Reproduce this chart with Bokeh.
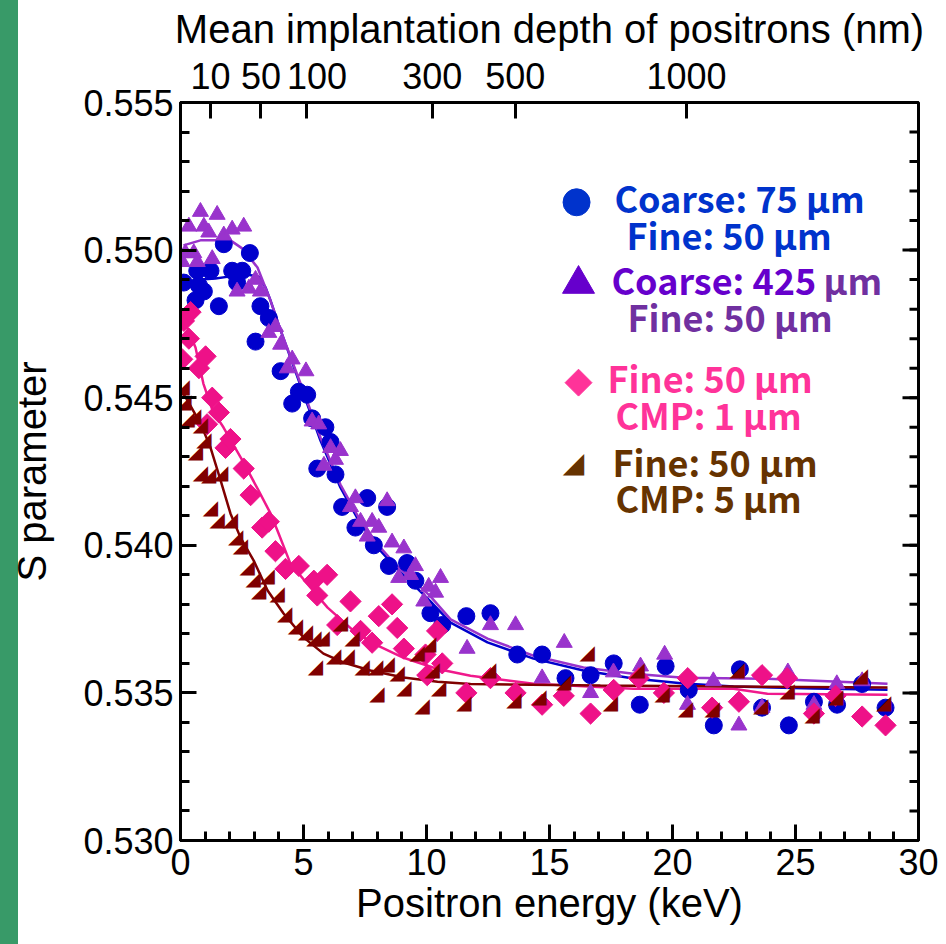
import math
from bokeh.plotting import figure
from bokeh.models import FixedTicker, LinearAxis, Label, Range1d, NumeralTickFormatter
from bokeh.embed import file_html
from bokeh.resources import INLINE
from bokeh.core.properties import value

# ---- measured S parameter vs positron energy (keV) ----
# Coarse 75 um / Fine 50 um
e_c75 = [0.13, 0.61, 0.68, 0.75, 0.95, 1.22, 1.56, 1.76, 2.10, 2.30, 2.51, 2.82, 3.05, 3.25,
         3.59, 4.07, 4.54, 4.81, 5.15, 5.35, 5.56, 5.89, 6.10, 6.30, 6.57, 7.11, 7.59, 7.86,
         8.40, 8.47, 9.21, 9.55, 10.16, 10.64, 11.62, 12.60, 13.69, 14.70, 15.65, 16.67,
         17.61, 18.67, 19.72, 20.66, 21.68, 22.74, 23.64, 24.73, 25.75, 26.69, 27.71, 28.66]
s_c75 = [0.5489, 0.5483, 0.5493, 0.5488, 0.5486, 0.5493, 0.5481, 0.5502, 0.5493, 0.5489,
         0.5493, 0.5499, 0.5469, 0.5481, 0.5477, 0.5459, 0.5448, 0.5452, 0.5451, 0.5443,
         0.5426, 0.5440, 0.5435, 0.5424, 0.5413, 0.5406, 0.5416, 0.5400, 0.5413, 0.5393,
         0.5394, 0.5388, 0.5377, 0.5373, 0.5376, 0.5377, 0.5363, 0.5363, 0.5355, 0.5356,
         0.5360, 0.5346, 0.5359, 0.5351, 0.5339, 0.5358, 0.5345, 0.5339, 0.5347, 0.5346,
         0.5353, 0.5345]

# Coarse 425 um / Fine 50 um
e_c425 = [0.07, 0.20, 0.34, 0.54, 0.68, 0.81, 0.95, 1.15, 1.29, 1.49, 1.76, 2.10, 2.30, 2.57,
          2.78, 3.05, 3.25, 3.59, 3.86, 4.07, 4.34, 4.54, 5.10, 5.35, 5.62, 5.83, 6.10, 6.30,
          6.50, 6.91, 7.11, 7.32, 7.59, 7.79, 8.06, 8.40, 8.60, 8.87, 9.08, 9.35, 9.55, 9.89,
          10.09, 10.37, 10.57, 11.65, 12.60, 13.62, 14.70, 15.60, 16.67, 17.60, 18.70, 19.68,
          20.61, 21.66, 22.70, 23.64, 24.69, 25.75, 26.68, 27.71]
s_c425 = [0.5496, 0.5499, 0.5508, 0.5499, 0.5496, 0.5513, 0.5508, 0.5506, 0.5497, 0.5512,
          0.5505, 0.5507, 0.5486, 0.5508, 0.5487, 0.5490, 0.5486, 0.5472, 0.5474, 0.5468,
          0.5460, 0.5463, 0.5459, 0.5442, 0.5441, 0.5427, 0.5433, 0.5429, 0.5432, 0.5413,
          0.5416, 0.5408, 0.5403, 0.5408, 0.5406, 0.5415, 0.5401, 0.5389, 0.5399, 0.5390,
          0.5393, 0.5381, 0.5386, 0.5384, 0.5389, 0.5365, 0.5373, 0.5373, 0.5355, 0.5367,
          0.5350, 0.5357, 0.5359, 0.5363, 0.5346, 0.5354, 0.5339, 0.5345, 0.5357, 0.5346,
          0.5353, 0.5354]

# Fine 50 um / CMP 1 um
e_cmp1 = [0.07, 0.14, 0.34, 0.41, 0.75, 1.02, 1.08, 1.29, 1.56, 1.83, 2.03, 2.57, 2.85, 3.32,
          3.59, 3.86, 4.27, 4.81, 5.42, 5.56, 5.96, 6.37, 6.91, 7.32, 7.79, 8.06, 8.60, 8.81,
          9.08, 9.96, 10.03, 10.43, 10.64, 11.62, 12.60, 13.62, 14.70, 15.58, 16.67, 17.61,
          18.63, 19.65, 20.62, 21.61, 22.70, 23.64, 24.66, 25.75, 26.63, 27.71, 28.66]
s_cmp1 = [0.5463, 0.5476, 0.5470, 0.5479, 0.5460, 0.5464, 0.5441, 0.5450, 0.5445, 0.5433,
          0.5436, 0.5426, 0.5417, 0.5406, 0.5408, 0.5398, 0.5392, 0.5393, 0.5388, 0.5383,
          0.5390, 0.5373, 0.5381, 0.5371, 0.5367, 0.5376, 0.5380, 0.5372, 0.5365, 0.5363,
          0.5356, 0.5371, 0.5360, 0.5350, 0.5355, 0.5350, 0.5346, 0.5349, 0.5343, 0.5351,
          0.5355, 0.5350, 0.5355, 0.5345, 0.5347, 0.5356, 0.5355, 0.5343, 0.5349, 0.5342,
          0.5339]

# Fine 50 um / CMP 5 um
e_cmp5 = [0.07, 0.14, 0.27, 0.54, 0.61, 0.81, 0.81, 0.95, 1.15, 1.22, 1.49, 1.63, 2.03, 2.24,
          2.44, 2.71, 2.95, 3.18, 3.52, 3.93, 4.24, 4.67, 5.08, 5.42, 5.49, 5.76, 6.23, 6.50,
          6.78, 6.98, 7.39, 7.93, 7.99, 8.40, 8.81, 9.08, 9.62, 9.82, 10.09, 10.23, 10.50,
          11.52, 12.53, 13.55, 14.57, 15.58, 16.53, 17.48, 18.56, 19.58, 20.53, 21.61, 22.63,
          23.58, 24.66, 25.68, 26.63, 27.64, 28.59]
s_cmp5 = [0.5454, 0.5449, 0.5443, 0.5444, 0.5432, 0.5441, 0.5425, 0.5436, 0.5424, 0.5413,
          0.5409, 0.5425, 0.5409, 0.5403, 0.5400, 0.5393, 0.5389, 0.5385, 0.5390, 0.5384,
          0.5377, 0.5373, 0.5371, 0.5369, 0.5359, 0.5369, 0.5363, 0.5374, 0.5363, 0.5369,
          0.5359, 0.5359, 0.5350, 0.5360, 0.5357, 0.5352, 0.5364, 0.5346, 0.5367, 0.5358,
          0.5352, 0.5347, 0.5358, 0.5348, 0.5349, 0.5354, 0.5364, 0.5347, 0.5358, 0.5350,
          0.5345, 0.5345, 0.5358, 0.5346, 0.5351, 0.5343, 0.5349, 0.5356, 0.5347]

# ---- fitted curves ----
fit_e_c75 = [0.08, 0.81, 1.42, 2.03, 2.64, 3.17, 3.46, 3.66, 4.07, 4.88, 5.69, 6.50, 7.24,
             8.01, 8.74, 9.47, 10.16, 10.98, 12.48, 14.35, 16.38, 18.41, 20.45, 22.48,
             25.73, 28.74]
fit_s_c75 = [0.54894, 0.54900, 0.54904, 0.54911, 0.54917, 0.54911, 0.54873, 0.54829,
             0.54728, 0.54541, 0.54355, 0.54196, 0.54084, 0.53993, 0.53925, 0.53867,
             0.53810, 0.53738, 0.53671, 0.53616, 0.53576, 0.53549, 0.53532, 0.53522,
             0.53515, 0.53511]

fit_e_c425 = [0.12, 0.81, 2.03, 2.52, 3.13, 3.66, 4.07, 4.88, 5.69, 6.50, 7.24, 8.01, 8.74,
              9.47, 10.16, 10.98, 12.48, 14.35, 16.38, 18.41, 20.45, 23.86, 28.74]
fit_s_c425 = [0.55016, 0.55033, 0.55033, 0.55005, 0.54941, 0.54829, 0.54728, 0.54548,
              0.54365, 0.54206, 0.54094, 0.54003, 0.53935, 0.53881, 0.53827, 0.53749,
              0.53684, 0.53626, 0.53586, 0.53565, 0.53551, 0.53548, 0.53531]

fit_e_cmp1 = [0.08, 0.61, 0.93, 1.30, 1.75, 2.52, 3.17, 3.66, 3.94, 4.47, 5.28, 5.98, 7.03,
              7.85, 9.07, 10.45, 11.79, 14.35, 18.41, 22.48, 23.86, 28.74]
fit_s_cmp1 = [0.54775, 0.54670, 0.54548, 0.54457, 0.54399, 0.54287, 0.54186, 0.54108,
              0.54050, 0.53938, 0.53857, 0.53789, 0.53711, 0.53667, 0.53619, 0.53581,
              0.53558, 0.53531, 0.53514, 0.53514, 0.53497, 0.53494]

fit_e_cmp5 = [0.08, 0.28, 0.81, 1.22, 1.63, 2.03, 2.44, 2.97, 3.54, 4.19, 5.00, 5.81, 6.63,
              7.72, 9.07, 10.45, 11.79, 17.07, 28.74]
fit_s_cmp5 = [0.54518, 0.54491, 0.54413, 0.54331, 0.54220, 0.54108, 0.54026, 0.53949,
              0.53847, 0.53769, 0.53688, 0.53633, 0.53603, 0.53576, 0.53552, 0.53538,
              0.53530, 0.53525, 0.53518]

# ---- secondary scale: mean implantation depth ----
depth_nm = [10, 50, 100, 300, 500, 1000]
depth_energy_kev = [1.22, 3.27, 5.14, 10.23, 13.61, 20.57]

energy_ticks = [0, 5, 10, 15, 20, 25, 30]
energy_minor = list(range(0, 31))
s_ticks = [0.530, 0.535, 0.540, 0.545, 0.550, 0.555]
s_minor = [round(0.530 + 0.001 * i, 3) for i in range(26)]

E_MIN, E_MAX = 0, 30
S_MIN, S_MAX = 0.530, 0.555

BLUE, PURPLE, PINK, MAROON = "#0000cc", "#9933cc", "#ee1188", "#800000"
TICK_FONT = "Liberation Sans"
TITLE_FONT = "Liberation Sans"
LEG_FONT = "Noto Sans CJK KR"
MAJOR_LEN, MINOR_LEN = 16, 9
STRIP = "#389a68"

p = figure(frame_width=738, frame_height=738,
           x_range=Range1d(E_MIN, E_MAX), y_range=Range1d(S_MIN, S_MAX),
           x_axis_location=None, y_axis_location=None,
           output_backend="svg", toolbar_location=None,
           min_border_left=180, min_border_right=28,
           min_border_top=102, min_border_bottom=104)
p.grid.visible = False
p.outline_line_color = "black"
p.outline_line_width = 3
p.background_fill_color = "white"
# transparent border so the page background (with its green strip) shows through
p.border_fill_color = None
p.styles = {"background": f"linear-gradient(to right, {STRIP} 0px, {STRIP} 18px, white 18px, white 100%)"}


def style_axis(ax):
    ax.axis_line_width = 3
    ax.axis_line_color = "black"
    ax.major_tick_line_width = 3
    ax.minor_tick_line_width = 3
    ax.major_tick_in = MAJOR_LEN
    ax.major_tick_out = 0
    ax.minor_tick_in = MINOR_LEN
    ax.minor_tick_out = 0
    ax.major_label_text_font = TICK_FONT
    ax.major_label_text_font_size = "36px"
    ax.major_label_text_color = "black"
    ax.axis_label_text_font = TITLE_FONT
    ax.axis_label_text_font_size = "40px"
    ax.axis_label_text_font_style = "normal"
    ax.axis_label_text_color = "black"


bottom = LinearAxis(ticker=FixedTicker(ticks=energy_ticks, minor_ticks=energy_minor),
                    axis_label="Positron energy (keV)")
style_axis(bottom)
bottom.major_label_standoff = 8
bottom.axis_label_standoff = 3
p.add_layout(bottom, "below")

left = LinearAxis(ticker=FixedTicker(ticks=s_ticks, minor_ticks=s_minor),
                  axis_label="S parameter",
                  formatter=NumeralTickFormatter(format="0.000"))
style_axis(left)
left.major_label_standoff = 7
left.axis_label_standoff = 26
p.add_layout(left, "left")

# depth labels; the "100" label sits a little right of its tick
depth_labels = {e: (("\u00a0\u00a0" + str(d)) if d == 100 else str(d))
                for e, d in zip(depth_energy_kev, depth_nm)}
top = LinearAxis(ticker=FixedTicker(ticks=depth_energy_kev, minor_ticks=[]),
                 axis_label="Mean implantation depth of positrons (nm)",
                 major_label_overrides=depth_labels)
style_axis(top)
top.major_label_standoff = 6
top.axis_label_standoff = 2
p.add_layout(top, "above")

# inward ticks along the right edge of the frame
p.ray(x=[E_MAX] * len(s_ticks), y=s_ticks, length=MAJOR_LEN, length_units="screen",
      angle=math.pi, line_color="black", line_width=3)
p.ray(x=[E_MAX] * len(s_minor), y=s_minor, length=MINOR_LEN, length_units="screen",
      angle=math.pi, line_color="black", line_width=3)

# fitted curves under the markers
for fe, fs, col in [(fit_e_c75, fit_s_c75, BLUE), (fit_e_c425, fit_s_c425, PURPLE),
                    (fit_e_cmp1, fit_s_cmp1, "#f0198c"), (fit_e_cmp5, fit_s_cmp5, MAROON)]:
    p.line(fe, fs, line_color=col, line_width=2.5)

p.scatter(e_c75, s_c75, marker="circle", size=17, fill_color=BLUE, line_color=BLUE)
p.scatter(e_c425, s_c425, marker="triangle", size=16, fill_color=PURPLE, line_color=PURPLE)
p.scatter(e_cmp1, s_cmp1, marker="square", angle=math.pi / 4, size=15,
          fill_color=PINK, line_color=PINK)
p.text(e_cmp5, s_cmp5, text=value("\u25e2"), text_color=MAROON,
       text_font=value("DejaVu Sans"), text_font_size=value("20px"),
       text_align="center", text_baseline="middle")

# ---- legend ----
p.scatter([16.10], [0.55162], marker="circle", size=27, fill_color="#0033cc", line_color="#0033cc")
p.scatter([16.18], [0.54885], marker="triangle", size=32, fill_color="#6600cc", line_color="#6600cc")
p.scatter([16.18], [0.54551], marker="square", angle=math.pi / 4, size=19,
          fill_color="#ff3399", line_color="#ff3399")
p.text([15.98], [0.54280], text=value("\u25e2"), text_color="#663300",
       text_font=value("DejaVu Sans"), text_font_size=value("28px"),
       text_align="center", text_baseline="middle")

legend_lines = [
    (17.64, 0.55180, "Coarse: 75 µm", "#0033cc"),
    (18.13, 0.55055, "Fine: 50 µm", "#0033cc"),
    (17.52, 0.54902, "Coarse: 425", "#6600cc"),
    (26.14, 0.54902, "µm", "#7030a0"),
    (18.17, 0.54777, "Fine: 50 µm", "#7030a0"),
    (17.36, 0.54570, "Fine: 50 µm", "#ff3399"),
    (17.68, 0.54445, "CMP: 1 µm", "#ff3399"),
    (17.56, 0.54286, "Fine: 50 µm", "#663300"),
    (17.68, 0.54164, "CMP: 5 µm", "#663300"),
]
for lx, ly, txt, col in legend_lines:
    p.add_layout(Label(x=lx, y=ly, text=txt, text_color=col, text_font=LEG_FONT,
                       text_font_size="36px", text_font_style="bold",
                       text_align="left", text_baseline="alphabetic"))

open("out.html", "w").write(file_html(p, INLINE))
